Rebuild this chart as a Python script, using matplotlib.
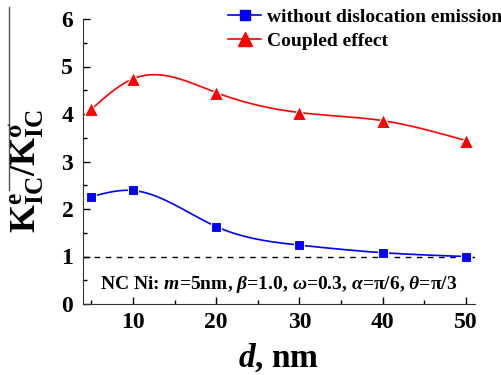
import numpy as np
import matplotlib
matplotlib.use('Agg')
import matplotlib.pyplot as plt
from matplotlib.lines import Line2D

# grain size d (nm)
d = [5, 10, 20, 30, 40, 50]
# K_IC^e / K_IC^sigma
without_emission = [2.26, 2.39, 1.63, 1.24, 1.08, 1.00]
coupled = [4.10, 4.74, 4.45, 4.03, 3.86, 3.44]

legend_labels = ['without dislocation emission', 'Coupled effect']
note = r'NC Ni: $m$=5nm, $\beta$=1.0, $\omega$=0.3, $\alpha$=π/6, $\theta$=π/3'


def spline(x, y, n=300):
    # natural cubic spline, like the smooth line Origin draws through points
    x = np.asarray(x, float)
    y = np.asarray(y, float)
    k = len(x)
    h = np.diff(x)
    A = np.zeros((k, k))
    r = np.zeros(k)
    A[0, 0] = A[-1, -1] = 1
    for i in range(1, k - 1):
        A[i, i - 1] = h[i - 1]
        A[i, i] = 2 * (h[i - 1] + h[i])
        A[i, i + 1] = h[i]
        r[i] = 6 * ((y[i + 1] - y[i]) / h[i] - (y[i] - y[i - 1]) / h[i - 1])
    M = np.linalg.solve(A, r)
    xs = np.linspace(x[0], x[-1], n)
    j = np.clip(np.searchsorted(x, xs) - 1, 0, k - 2)
    t0 = x[j + 1] - xs
    t1 = xs - x[j]
    hj = h[j]
    ys = (M[j] * t0**3 + M[j + 1] * t1**3) / (6 * hj) \
        + (y[j] / hj - M[j] * hj / 6) * t0 + (y[j + 1] / hj - M[j + 1] * hj / 6) * t1
    return xs, ys


plt.rcParams['font.family'] = 'Liberation Serif'
plt.rcParams['font.weight'] = 'bold'
plt.rcParams['axes.labelweight'] = 'bold'
plt.rcParams['mathtext.fontset'] = 'custom'
plt.rcParams['mathtext.rm'] = 'Liberation Serif:bold'
plt.rcParams['mathtext.it'] = 'Liberation Serif:bold:italic'
plt.rcParams['mathtext.bf'] = 'Liberation Serif:bold'

fig = plt.figure(figsize=(5.02, 3.75), dpi=100)
ax = fig.add_axes([83 / 502, 1 - 304 / 375, 392 / 502, 285 / 375])

ax.axhline(1, color='black', lw=1, dashes=(4, 4))

xs, ys = spline(d, without_emission)
ax.plot(xs, ys, color='blue', lw=1.2)
ax.plot(d, without_emission, ls='none', marker='s', ms=7.5, color='blue', mec='white', mew=0.8)
xs, ys = spline(d, coupled)
ax.plot(xs, ys, color='red', lw=1.2)
ax.plot(d, coupled, ls='none', marker='^', ms=10, color='red', mec='white', mew=0.8)

ax.set_xlim(4.0, 51.1)
ax.set_ylim(0, 6)
ax.set_xticks([10, 20, 30, 40, 50])
ax.set_xticks([5, 15, 25, 35, 45], minor=True)
ax.set_yticks(range(7))
ax.set_yticks(np.arange(0.5, 6, 1), minor=True)
ax.tick_params(direction='in', which='major', length=5, width=1, labelsize=17)
ax.tick_params(axis='y', pad=7)
ax.tick_params(axis='x', pad=6)
ax.tick_params(direction='in', which='minor', length=3, width=1)
ax.spines['top'].set_visible(False)
ax.spines['right'].set_visible(False)
for s in ['left', 'bottom']:
    ax.spines[s].set_color('#333333')

ax.set_xlabel(r'$d$, nm', fontsize=24)
ax.xaxis.set_label_coords(0.5, -0.13)
ax.set_ylabel(r'$\mathrm{K^{e}_{IC}/K^{\sigma}_{IC}}$', fontsize=26)
ax.yaxis.set_label_coords(-0.092, 0.465)
fig.add_artist(Line2D([9 / 502, 9 / 502], [1 - 7 / 375, 1 - 190 / 375], color='#555555', lw=1))

ax.text(0.5, 0.067, note, transform=ax.transAxes, ha='center', va='center', fontsize=14)

handles = [Line2D([], [], color='blue', marker='s', ms=7.5, lw=1.2),
           Line2D([], [], color='red', marker='^', ms=10, lw=1.2)]
fig.legend(handles, legend_labels, loc='upper left', bbox_to_anchor=(228 / 502, 1 - 8 / 375),
           frameon=False, fontsize=14, handlelength=1.7, handletextpad=0.3,
           labelspacing=0.35, borderpad=0, borderaxespad=0)

fig.savefig('out.png', dpi=100)
